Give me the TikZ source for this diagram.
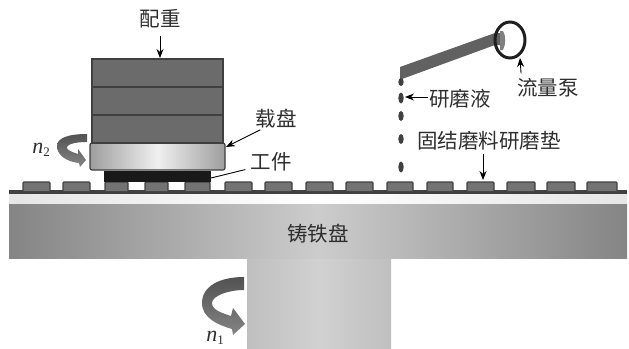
\documentclass[tikz,border=0pt]{standalone}
\usepackage{fontspec}
\newfontfamily\cjk{Noto Sans CJK SC}
\newfontfamily\latin{Liberation Serif}
\usetikzlibrary{arrows.meta}
\definecolor{ink}{gray}{0.18}
\definecolor{rim}{gray}{0.25}
\definecolor{weightgray}{gray}{0.42}
\definecolor{padgray}{gray}{0.45}
\newcommand{\rotsym}[1]{{\latin\itshape n\raisebox{-3.5pt}{\fontsize{13}{14}\selectfont\upshape #1}}}
\tikzset{
  tag/.style={inner sep=0pt,text=ink,font=\cjk\fontsize{20.5}{24}\selectfont},
  sym/.style={inner sep=0pt,text=ink,font=\fontsize{22}{24}\selectfont},
  lead/.style={draw=black,line width=0.9pt,-{Stealth[length=9pt,width=7pt]}},
  plain lead/.style={draw=black,line width=0.9pt},
  weight/.style={fill=weightgray,draw=rim,line width=1.2pt},
  pad/.style={fill=padgray,draw=rim,line width=1.4pt,rounded corners=1pt},
  drop/.style={fill=rim,draw=none},
  turn/.style={top color=black!68,bottom color=black!48},
}
\begin{document}
\begin{tikzpicture}[x=1pt,y=-1pt]
\useasboundingbox (0,0) rectangle (629,348);

% shaft and cast iron disc
\shade[left color=black!25,right color=black!25,middle color=black!18] (247,258) rectangle (391,348);
\shade[left color=black!48,right color=black!48,middle color=black!20] (9,203) rectangle (627,258);
% white strip and dark base line
\shade[left color=black!10,right color=black!10,middle color=white] (9,194) rectangle (627,203);
\fill[rim] (9,190) rectangle (627,194);

% abrasive pads
\foreach \a/\b in {23/50,63/90,105/128,145/168,185/210,225/252,265/292,306/333,346/373,387/413,427/453,467/494,507/535,547/575,587/617}
  \draw[pad] (\a,191) -- (\a,182) -- (\b,182) -- (\b,191);

% workpiece, carrier and stacked weights
\fill[black!90] (104,171) rectangle (211,182);
\shade[left color=black!38,right color=black!38,middle color=black!6,draw=rim,line width=1.2pt,rounded corners=2pt] (90,143) rectangle (225,170);
\draw[weight] (92,59) rectangle (223,87);
\draw[weight] (92,87) rectangle (223,115);
\draw[weight] (92,115) rectangle (223,143);

% carrier rotation arrow
\shade[turn] (87,134) .. controls (68,134) and (57,138) .. (57,146)
  .. controls (57,156) and (68,162) .. (79,163) -- (80,167) -- (86,160) -- (78,149) -- (78,154)
  .. controls (72,152) and (66,150) .. (67,147) .. controls (68,144) and (76,142) .. (87,142) -- cycle;

% disc rotation arrow
\shade[turn] (244,277) .. controls (220,277) and (202,286) .. (202,303)
  .. controls (202,318) and (218,325) .. (232,329) -- (233,335) -- (245,324) -- (233,308) -- (231,316)
  .. controls (222,313) and (212,310) .. (212,303) .. controls (212,296) and (228,290) .. (244,290) -- cycle;

% feed pipe, pump and slurry drops
\fill[black!62] (400,67) -- (495,33) -- (500,33) -- (500,45) -- (495,45) -- (402,79) -- (400,79) -- cycle;
\fill[black!50] (503,31) .. controls (506,36) and (506,44) .. (503,50) -- (500,50) -- (500,31) -- cycle;
\draw[black!88,line width=3pt] (510,40) ellipse [x radius=15,y radius=18];
\foreach \y/\h in {82/4,98/5.5,116/5,139/5,167/5.5}
  \fill[drop] (401,\y) ellipse [x radius=2.7,y radius=\h];

% labels
\node[tag] (weightlabel) at (160,19) {配重};
\node[tag] (carrierlabel) at (276,119) {载盘};
\node[tag] (worklabel) at (271,162) {工件};
\node[tag] (pumplabel) at (548,88) {流量泵};
\node[tag] (slurrylabel) at (460,99) {研磨液};
\node[tag] (padlabel) at (489,141) {固结磨料研磨垫};
\node[tag] (disclabel) at (318,234) {铸铁盘};
\node[sym] (ntwo) at (41,150) {\rotsym{2}};
\node[sym] (none) at (215,338) {\rotsym{1}};

% leader targets
\coordinate (weighttop) at (160,58);
\coordinate (carrieredge) at (226,147);
\coordinate (workedge) at (211,178);
\coordinate (pumpedge) at (520,58);
\coordinate (dropedge) at (405,97);
\coordinate (padtop) at (483,180);

\draw[lead] (weightlabel.south -| weighttop) ++(0,7) -- (weighttop);
\draw[lead] (carrierlabel.south west) ++(5,1) -- (carrieredge);
\draw[plain lead] (worklabel.south west) ++(-5,-2) -- (workedge);
\draw[lead] (pumplabel.north west) ++(4,-5) -- (pumpedge);
\draw[lead] (slurrylabel.west) ++(-1,-2) -- (dropedge);
\draw[lead] (padlabel.south -| padtop) ++(0,3) -- (padtop);
\end{tikzpicture}
\end{document}
